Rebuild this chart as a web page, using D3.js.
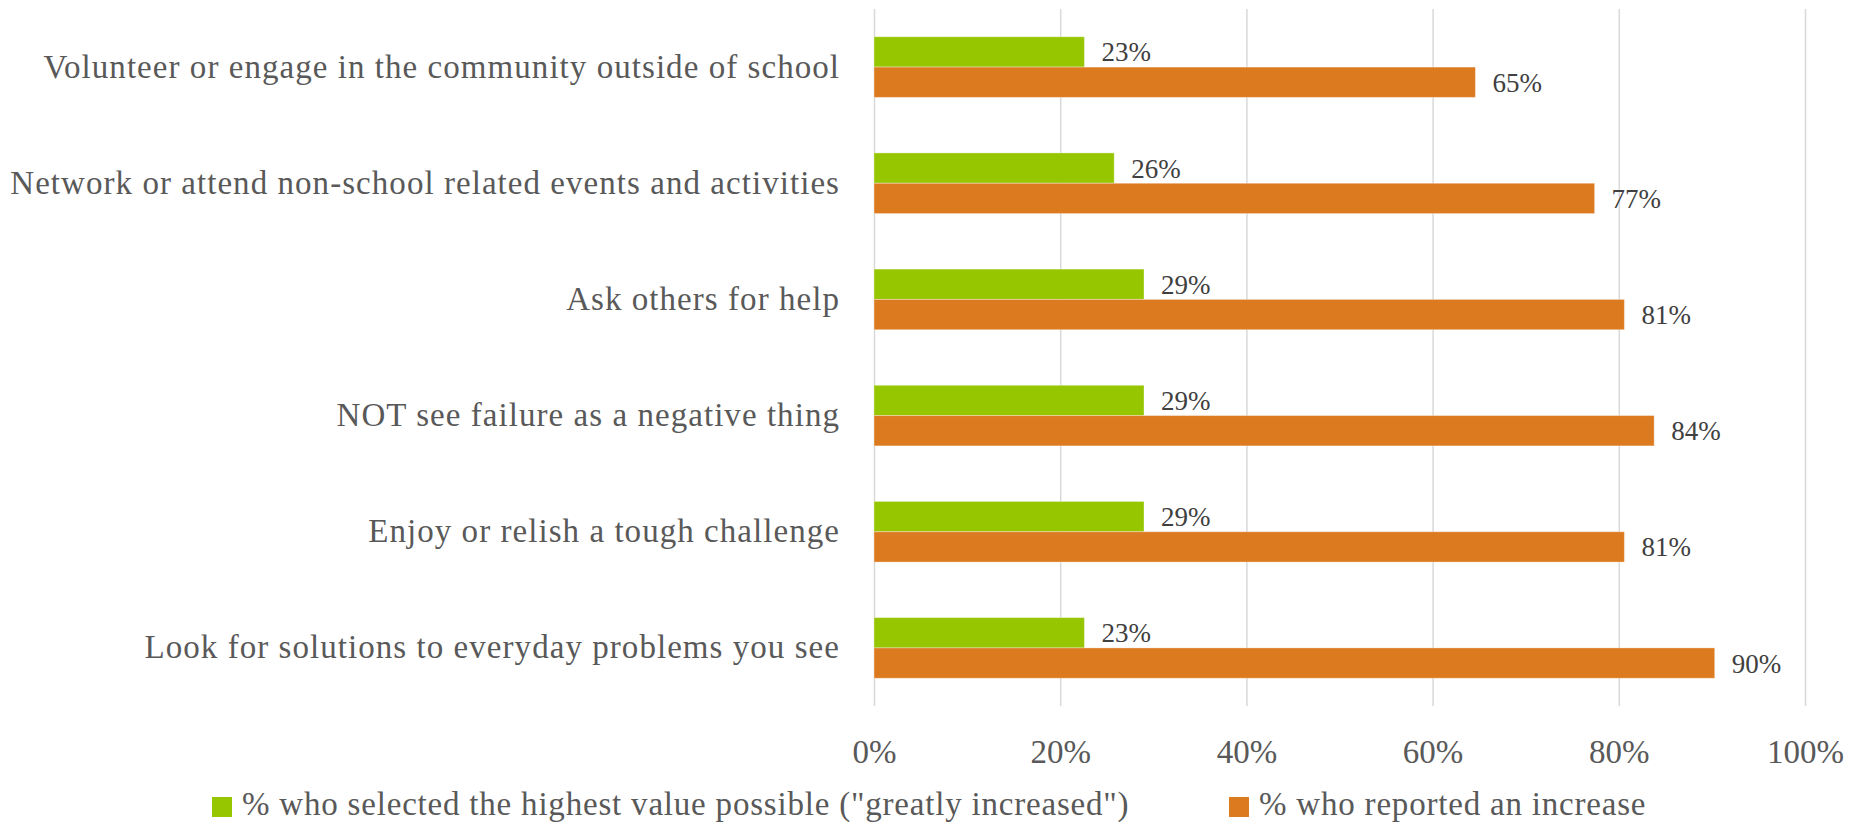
<!DOCTYPE html>
<html>
<head>
<meta charset="utf-8">
<script src="https://cdn.jsdelivr.net/npm/d3@7"></script>
<style>
  html, body { margin: 0; padding: 0; background: #fff; }
  svg text { font-family: "Liberation Serif", "DejaVu Serif", serif; fill: #595959; }
</style>
</head>
<body>
<svg id="chart"></svg>
<script>
// ── Data ──────────────────────────────────────────────────────────────────
const categories = [
  'Volunteer or engage in the community outside of school',
  'Network or attend non-school related events and activities',
  'Ask others for help',
  'NOT see failure as a negative thing',
  'Enjoy or relish a tough challenge',
  'Look for solutions to everyday problems you see'
];
const seriesNames = [
  '% who selected the highest value possible ("greatly increased")',
  '% who reported an increase'
];
const highestValues = [0.226, 0.258, 0.29, 0.29, 0.29, 0.226];
const increaseValues = [0.646, 0.774, 0.806, 0.838, 0.806, 0.903];
const xTicks = [0, 0.2, 0.4, 0.6, 0.8, 1.0];

const COLORS = ['#95C600', '#DC7A1F'];
const W = 1853, H = 825;
const PLOT = { left: 874, right: 1805, top: 9, bottom: 706 };

const svg = d3.select('#chart').attr('width', W).attr('height', H);

const x = d3.scaleLinear().domain([0, 1]).range([PLOT.left, PLOT.right]);
const y = d3.scaleBand()
  .domain(categories)
  .range([PLOT.top, PLOT.bottom])
  .paddingInner(0.478)
  .paddingOuter(0.239);
const ySub = d3.scaleBand().domain([0, 1]).range([0, y.bandwidth()]);

// Gridlines + bottom tick labels
const xAxis = d3.axisBottom(x)
  .tickValues(xTicks)
  .tickFormat(d3.format('.0%'))
  .tickSize(-(PLOT.bottom - PLOT.top))
  .tickPadding(0);

const axisG = svg.append('g')
  .attr('transform', `translate(0,${PLOT.bottom})`)
  .call(xAxis);
axisG.select('.domain').remove();
axisG.selectAll('line').attr('stroke', '#d9d9d9').attr('stroke-width', 1.5);
axisG.selectAll('text')
  .attr('y', 57)
  .attr('dy', 0)
  .attr('font-size', '33px')
  .style('fill', '#595959');

// Category labels
svg.append('g').selectAll('text')
  .data(categories)
  .join('text')
  .attr('x', 840)
  .attr('y', d => y(d) + y.bandwidth() / 2)
  .attr('dy', '0.32em')
  .attr('text-anchor', 'end')
  .attr('font-size', '33px')
  .attr('letter-spacing', '1.05px')
  .text(d => d);

// Bars
const rows = categories.map((c, i) => ({ cat: c, vals: [highestValues[i], increaseValues[i]] }));
const rowG = svg.append('g').selectAll('g')
  .data(rows)
  .join('g')
  .attr('transform', d => `translate(0,${y(d.cat)})`);

rowG.selectAll('rect')
  .data(d => d.vals.map((v, s) => ({ v, s })))
  .join('rect')
  .attr('x', x(0))
  .attr('y', d => ySub(d.s))
  .attr('width', d => x(d.v) - x(0))
  .attr('height', ySub.bandwidth())
  .attr('fill', d => COLORS[d.s])
  .attr('stroke', '#fff')
  .attr('stroke-opacity', 0.35)
  .attr('stroke-width', 1);

rowG.selectAll('text')
  .data(d => d.vals.map((v, s) => ({ v, s })))
  .join('text')
  .attr('x', d => x(d.v) + 17)
  .attr('y', d => ySub(d.s) + ySub.bandwidth() / 2)
  .attr('dy', '0.35em')
  .attr('font-size', '27px')
  .style('fill', '#404040')
  .text(d => d3.format('.0%')(d.v));

// Legend
const legendX = [212, 1229];
const legend = svg.append('g').selectAll('g')
  .data(seriesNames)
  .join('g')
  .attr('transform', (d, i) => `translate(${legendX[i]},797)`);
legend.append('rect')
  .attr('width', 20).attr('height', 20)
  .attr('fill', (d, i) => COLORS[i]);
legend.append('text')
  .attr('x', 30)
  .attr('y', 18)
  .attr('font-size', '33px')
  .attr('letter-spacing', '0.8px')
  .text(d => d);
</script>
</body>
</html>
